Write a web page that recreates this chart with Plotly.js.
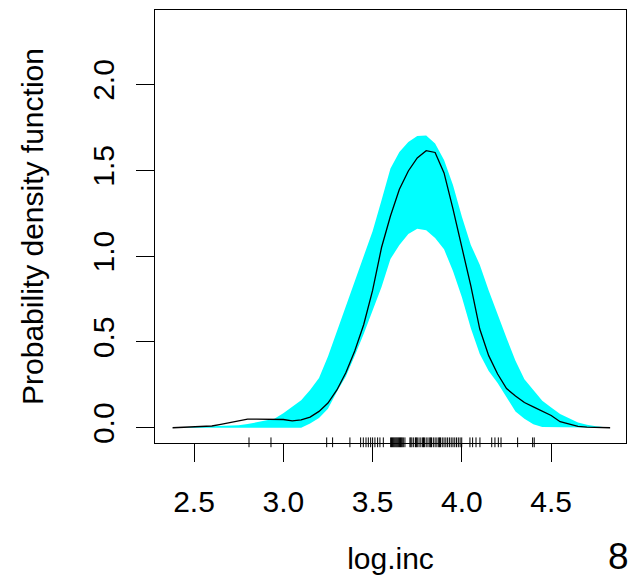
<!DOCTYPE html>
<html>
<head>
<meta charset="utf-8">
<script src="https://cdn.plot.ly/plotly-3.0.1.min.js"></script>
<style>html,body{margin:0;padding:0;background:#fff;}#chart{width:629px;height:587px;}</style>
</head>
<body>
<div id="chart"></div>
<script>
// Estimated density of log.inc with variability band
var logInc = [2.38, 2.45, 2.5, 2.55, 2.6, 2.65, 2.7, 2.75, 2.8, 2.85, 2.9, 2.95, 3.0, 3.05, 3.1, 3.15, 3.2, 3.25, 3.3, 3.35, 3.4, 3.45, 3.5, 3.55, 3.6, 3.65, 3.7, 3.75, 3.8, 3.85, 3.9, 3.95, 4.0, 4.05, 4.1, 4.15, 4.2, 4.25, 4.3, 4.35, 4.4, 4.45, 4.5, 4.55, 4.6, 4.65, 4.7, 4.75, 4.83];
var densityMean = [0.0, 0.004, 0.006, 0.006, 0.01, 0.02, 0.03, 0.042, 0.05, 0.05, 0.05, 0.05, 0.048, 0.04, 0.046, 0.062, 0.095, 0.144, 0.22, 0.32, 0.447, 0.6, 0.8, 1.05, 1.234, 1.39, 1.496, 1.572, 1.614, 1.604, 1.485, 1.275, 1.047, 0.826, 0.575, 0.42, 0.313, 0.228, 0.185, 0.147, 0.122, 0.097, 0.071, 0.035, 0.022, 0.008, 0.004, 0.001, 0.0];
var bandUpper = [0.0, 0.002, 0.004, 0.006, 0.008, 0.01, 0.01, 0.015, 0.021, 0.03, 0.04, 0.052, 0.085, 0.125, 0.16, 0.22, 0.29, 0.415, 0.56, 0.71, 0.855, 0.99, 1.145, 1.326, 1.51, 1.607, 1.665, 1.7, 1.703, 1.656, 1.56, 1.414, 1.23, 1.065, 0.95, 0.8, 0.657, 0.523, 0.39, 0.282, 0.22, 0.157, 0.118, 0.08, 0.055, 0.031, 0.018, 0.009, 0.0];
var bandLower = [0.0, 0.0, 0.0, 0.0, 0.0, 0.0, 0.0, 0.0, 0.0, 0.0, 0.0, 0.0, 0.0, 0.0, 0.0, 0.024, 0.057, 0.11, 0.21, 0.298, 0.42, 0.546, 0.68, 0.82, 0.983, 1.065, 1.129, 1.16, 1.15, 1.105, 1.04, 0.913, 0.76, 0.58, 0.43, 0.33, 0.26, 0.175, 0.095, 0.052, 0.02, 0.004, 0.0, 0.0, 0.0, 0.0, 0.0, 0.0, 0.0];
var rugObs = [2.808, 2.931, 3.243, 3.276, 3.373, 3.433, 3.448, 3.463, 3.476, 3.489, 3.500, 3.513, 3.528, 3.541, 3.560,
  3.601, 3.606, 3.611, 3.616, 3.621, 3.626, 3.631, 3.636, 3.641, 3.646, 3.651, 3.656, 3.661, 3.666, 3.672, 3.681,
  3.709, 3.714, 3.72, 3.73, 3.74, 3.745, 3.75, 3.76, 3.77, 3.78, 3.785, 3.79, 3.80, 3.81, 3.82, 3.825, 3.83, 3.84,
  3.85, 3.86, 3.87, 3.875, 3.88, 3.89, 3.90, 3.91, 3.92, 3.93, 3.94, 3.95, 3.96, 3.97, 3.98, 3.99, 3.999,
  4.045, 4.060, 4.079, 4.101, 4.167, 4.185, 4.204, 4.219, 4.312, 4.396, 4.405];
var xTicks = [2.5, 3.0, 3.5, 4.0, 4.5];
var yTicks = [0.0, 0.5, 1.0, 1.5, 2.0];

var FONT = 'Liberation Sans, Arial, Helvetica, sans-serif';
var FS = 30;

var bandX = logInc.concat(logInc.slice().reverse());
var bandY = bandUpper.concat(bandLower.slice().reverse());

var rugY = rugObs.map(function(){ return -0.085; });

var traces = [
  {x: bandX, y: bandY, type: 'scatter', mode: 'lines', fill: 'toself',
   fillcolor: '#00FFFF', line: {width: 0, color: '#00FFFF'}, hoverinfo: 'skip', showlegend: false},
  {x: logInc, y: densityMean, type: 'scatter', mode: 'lines',
   line: {color: '#000000', width: 1.3}, showlegend: false},
  {x: rugObs, y: rugY, type: 'scatter', mode: 'markers', cliponaxis: false,
   marker: {symbol: 'line-ns', size: 7, color: '#000', line: {color: '#000', width: 1}}, showlegend: false}
];

var layout = {
  width: 629, height: 587,
  margin: {l: 155, r: 3, t: 10, b: 144},
  paper_bgcolor: '#fff', plot_bgcolor: '#fff',
  font: {family: FONT, size: FS, color: '#000'},
  showlegend: false,
  xaxis: {
    range: [2.2816, 4.9188], tickvals: xTicks, tickformat: '.1f',
    showline: true, mirror: true, linecolor: '#000', linewidth: 1,
    ticks: 'outside', ticklen: 18, tickwidth: 1, tickcolor: '#000',
    showgrid: false, zeroline: false, ticklabelstandoff: 14,
    tickfont: {family: FONT, size: FS, color: '#000'},
    title: {text: 'log.inc', font: {family: FONT, size: FS, color: '#000'}, standoff: 30}
  },
  yaxis: {
    range: [-0.089, 2.434], tickvals: yTicks, tickformat: '.1f', tickangle: -90,
    showline: true, mirror: true, linecolor: '#000', linewidth: 1,
    ticks: 'outside', ticklen: 18, tickwidth: 1, tickcolor: '#000',
    showgrid: false, zeroline: false, ticklabelstandoff: 10,
    tickfont: {family: FONT, size: FS, color: '#000'},
    title: {text: 'Probability density function', font: {family: FONT, size: FS, color: '#000'}, standoff: 34}
  },
  annotations: [
    {text: '8', xref: 'paper', yref: 'paper', x: 0.985, y: -0.263, xanchor: 'center', yanchor: 'middle',
     showarrow: false, font: {family: FONT, size: 37, color: '#000'}}
  ]
};

Plotly.newPlot('chart', traces, layout, {staticPlot: true, displayModeBar: false});
</script>
</body>
</html>
